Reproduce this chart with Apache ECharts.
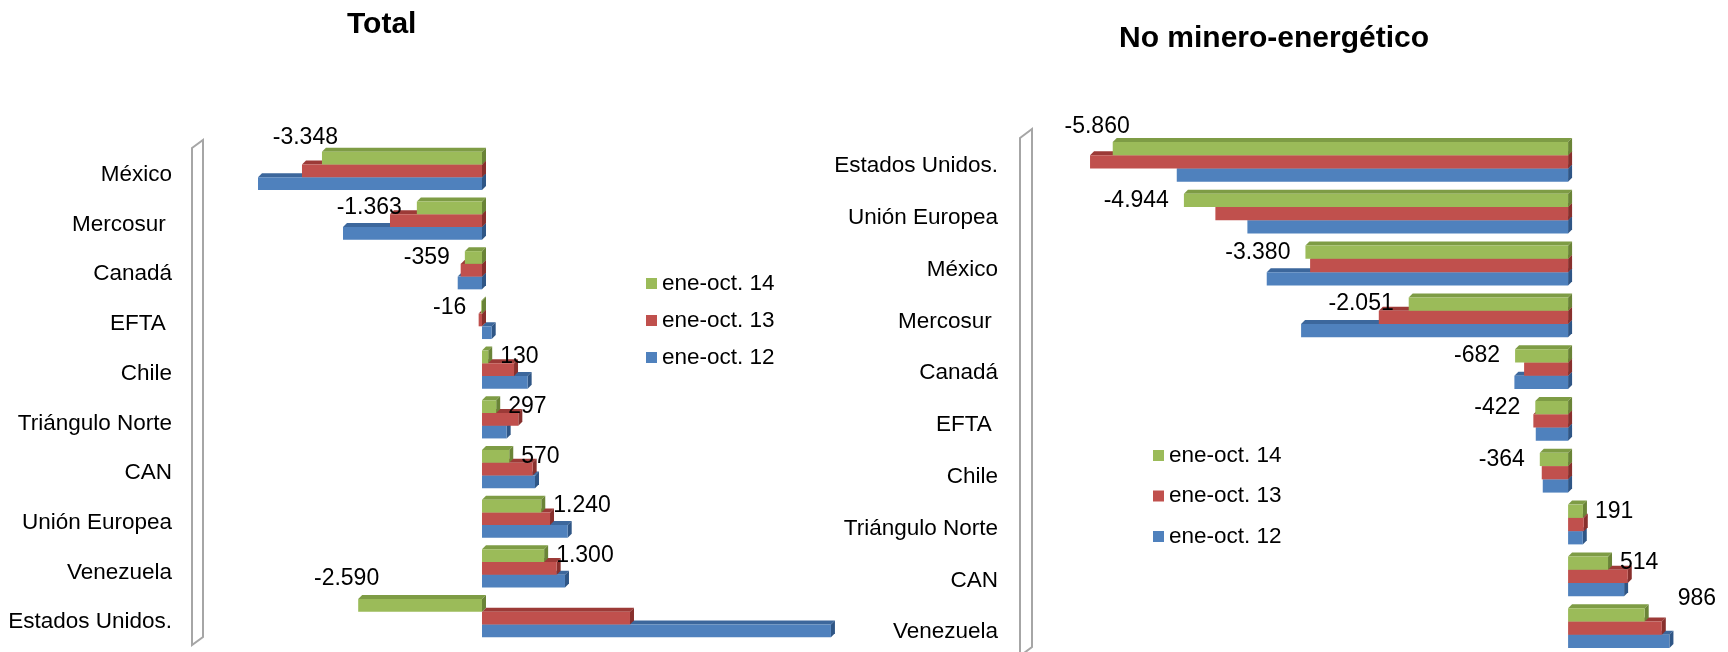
<!DOCTYPE html>
<html><head><meta charset="utf-8">
<script src="https://cdn.jsdelivr.net/npm/echarts@6/dist/echarts.min.js"></script>
<style>html,body{margin:0;padding:0;background:#fff}#c{width:1728px;height:652px}</style>
</head><body><div id="c"></div>
<script>
// ---------- DATA ----------
const seriesNames = ['ene-oct. 14', 'ene-oct. 13', 'ene-oct. 12'];

const totalCategories = ['México', 'Mercosur ', 'Canadá', 'EFTA ', 'Chile', 'Triángulo Norte', 'CAN', 'Unión Europea', 'Venezuela', 'Estados Unidos.'];
const total14 = [-3348, -1363, -359, -16, 130, 297, 570, 1240, 1300, -2590];
const total13 = [-3766, -1925, -446, -70, 670, 760, 1060, 1423, 1562, 3096];
const total12 = [-4686, -2908, -508, 203, 955, 516, 1109, 1793, 1736, 7300];

const noMinCategories = ['Estados Unidos.', 'Unión Europea', 'México', 'Mercosur ', 'Canadá', 'EFTA ', 'Chile', 'Triángulo Norte', 'CAN', 'Venezuela'];
const noMin14 = [-5860, -4944, -3380, -2051, -682, -422, -364, 191, 514, 986];
const noMin13 = [-6152, -4539, -3320, -2436, -566, -447, -339, 202, 768, 1206];
const noMin12 = [-5036, -4127, -3878, -3436, -691, -416, -326, 189, 721, 1304];

const titles = ['Total', 'No minero-energético'];

// ---------- STYLE ----------
const FONT = '"Liberation Sans", Arial, sans-serif';
const BAR_RATIO = 0.256;
const DEPTH = 4;
const palette = [
  { front: '#9BBB59', top: '#7E9C45', side: '#6A8437' },
  { front: '#C0504D', top: '#9C3A37', side: '#88302D' },
  { front: '#4F81BD', top: '#3C679C', side: '#2F5686' }
];
// label nudges (dx, dy) for labels the original moved by hand
const totalLabelShift = { 'México': [31, -20], 'Estados Unidos.': [36, -27] };
const noMinLabelShift = { 'Estados Unidos.': [32, -22], 'Venezuela': [21, -16] };

function fmt(v) {
  const s = Math.abs(Math.round(v)).toString().replace(/\B(?=(\d{3})+(?!\d))/g, '.');
  return (v < 0 ? '-' : '') + s;
}

function makeRender(k, cats, shifts, withLabel) {
  const c = palette[k];
  return function (params, api) {
    const v = api.value(0), ci = api.value(1);
    const p0 = api.coord([0, ci]);
    const p1 = api.coord([v, ci]);
    const band = api.size([0, 1])[1];
    const h = band * BAR_RATIO, d = DEPTH;
    const yt = p0[1] - 1.5 * h + d / 2 + k * h;
    const xl = Math.min(p0[0], p1[0]), xr = Math.max(p0[0], p1[0]);
    const children = [
      { type: 'polygon', shape: { points: [[xl, yt], [xl + d, yt - d], [xr + d, yt - d], [xr, yt]] }, style: { fill: c.top } },
      { type: 'polygon', shape: { points: [[xr, yt], [xr + d, yt - d], [xr + d, yt + h - d], [xr, yt + h]] }, style: { fill: c.side } },
      { type: 'rect', shape: { x: xl, y: yt, width: xr - xl, height: h }, style: { fill: c.front } }
    ];
    if (withLabel) {
      const sh = shifts[cats[ci]] || [0, 0];
      const neg = v < 0;
      children.push({
        type: 'text',
        z2: 10,
        style: {
          text: fmt(v),
          x: (neg ? xl - 15 : xr + 12) + sh[0],
          y: yt + h / 2 + sh[1],
          align: neg ? 'right' : 'left',
          verticalAlign: 'middle',
          fontSize: 23,
          fontFamily: FONT,
          fill: '#000'
        }
      });
    }
    return { type: 'group', children };
  };
}

function buildSeries(gi, cats, arrs, shifts) {
  const out = [];
  // draw bottom bar first so upper bars cover the hidden top faces
  for (let k = 2; k >= 0; k--) {
    out.push({
      type: 'custom',
      name: seriesNames[k],
      xAxisIndex: gi, yAxisIndex: gi,
      itemStyle: { color: palette[k].front },
      renderItem: makeRender(k, cats, shifts, k === 0),
      encode: { x: 0, y: 1 },
      data: arrs[k].map((v, i) => [v, i]),
      z: 2 + (2 - k)
    });
  }
  return out;
}

const gridL = { left: 243, width: 597.5, top: 144, height: 497 };
const gridR = { left: 1063, width: 660.5, top: 134, height: 518 };

function catAxis(gi, cats, margin) {
  return {
    type: 'category', gridIndex: gi, data: cats, inverse: true,
    axisLine: { show: false }, axisTick: { show: false }, splitLine: { show: false },
    axisLabel: { margin: margin, fontSize: 22.5, fontFamily: FONT, color: '#000', verticalAlign: 'top', lineHeight: 12 }
  };
}
function valAxis(gi, mn, mx) {
  return { type: 'value', gridIndex: gi, min: mn, max: mx, show: false, splitLine: { show: false } };
}

function wall(x1, x2, yTopL, yTopR, yBotR, yBotL) {
  return {
    type: 'polygon',
    shape: { points: [[x1, yTopL], [x2, yTopR], [x2, yBotR], [x1, yBotL]] },
    style: { fill: '#fff', stroke: '#A6A6A6', lineWidth: 2 },
    silent: true
  };
}

const legendText = { fontSize: 22.5, fontFamily: FONT, color: '#000' };

const option = {
  backgroundColor: '#fff',
  animation: false,
  title: [
    { text: titles[0], left: 342, top: 5, textStyle: { fontSize: 30, fontWeight: 'bold', fontFamily: FONT, color: '#000' } },
    { text: titles[1], left: 1114, top: 19, textStyle: { fontSize: 30, fontWeight: 'bold', fontFamily: FONT, color: '#000' } }
  ],
  legend: [
    { data: seriesNames, orient: 'vertical', left: 641, top: 267, itemWidth: 11, itemHeight: 11, itemGap: 14, icon: 'rect', selectedMode: false, textStyle: legendText },
    { data: seriesNames, orient: 'vertical', left: 1148, top: 439, itemWidth: 11, itemHeight: 11, itemGap: 17.5, icon: 'rect', selectedMode: false, textStyle: legendText }
  ],
  graphic: [
    wall(192, 203, 148, 140, 637, 645),
    wall(1020, 1032, 138, 129, 647, 656)
  ],
  grid: [gridL, gridR],
  xAxis: [valAxis(0, -5000, 7500), valAxis(1, -6500, 2000)],
  yAxis: [catAxis(0, totalCategories, 71), catAxis(1, noMinCategories, 65)],
  series: [].concat(
    buildSeries(0, totalCategories, [total14, total13, total12], totalLabelShift),
    buildSeries(1, noMinCategories, [noMin14, noMin13, noMin12], noMinLabelShift)
  )
};

const chart = echarts.init(document.getElementById('c'), null, { renderer: 'canvas' });
chart.setOption(option);
</script>
</body></html>
